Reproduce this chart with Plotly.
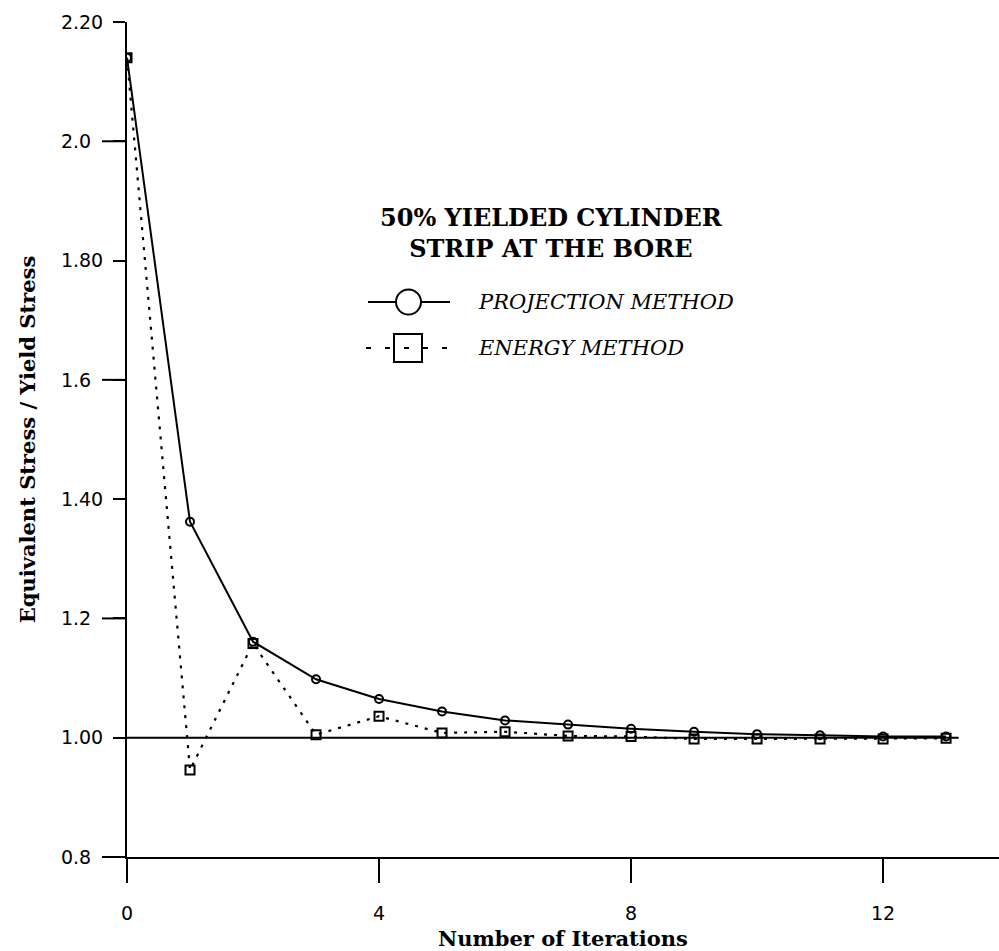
import plotly.graph_objects as go

# ---- data ----
iterations = [0, 1, 2, 3, 4, 5, 6, 7, 8, 9, 10, 11, 12, 13]
projection = [2.14, 1.362, 1.161, 1.098, 1.065, 1.044, 1.029, 1.022, 1.015, 1.010, 1.006, 1.004, 1.002, 1.002]
energy = [2.14, 0.946, 1.158, 1.005, 1.036, 1.008, 1.010, 1.003, 1.002, 0.998, 0.998, 0.998, 0.998, 0.999]

x_ticks = [0, 4, 8, 12]
y_tickvals = [0.8, 1.0, 1.2, 1.4, 1.6, 1.8, 2.0, 2.2]
y_ticktext = ["0.8", "1.00", "1.2", "1.40", "1.6", "1.80", "2.0", "2.20"]
y_long_ticks = [0.8, 1.2, 1.6, 2.0]
reference_level = 1.0

title_lines = ["50% YIELDED CYLINDER", "STRIP AT THE BORE"]
series_names = ["PROJECTION METHOD", "ENERGY METHOD"]

# ---- layout geometry ----
W, H = 999, 951
ML, MR, MT, MB = 127, 0, 22, 94
PW, PH = W - ML - MR, H - MT - MB
X_RANGE = [0, 13.84]
Y_RANGE = [0.8, 2.2]


def px(xp):
    return (xp - ML) / PW


def py(yp):
    return (H - MB - yp) / PH


def ypaper(v):
    return (v - Y_RANGE[0]) / (Y_RANGE[1] - Y_RANGE[0])


# pad the short labels with an invisible digit so all labels share one left edge
label_w = max(len(t) for t in y_ticktext)
y_ticktext_padded = [
    t + ('<span style="color:white">' + "0" * (label_w - len(t)) + "</span>"
         if len(t) < label_w else "")
    for t in y_ticktext
]

fig = go.Figure()

fig.add_trace(go.Scatter(
    x=iterations, y=projection, mode="lines+markers", name=series_names[0],
    line=dict(color="black", width=2),
    marker=dict(symbol="circle-open", size=8, color="black", line=dict(width=2)),
    showlegend=False,
))
fig.add_trace(go.Scatter(
    x=iterations, y=energy, mode="lines+markers", name=series_names[1],
    line=dict(color="black", width=2.2, dash="3px,7px"),
    marker=dict(symbol="square-open", size=9, color="black", line=dict(width=2)),
    showlegend=False,
))

shapes = []
# reference line at 1.00
shapes.append(dict(type="line", xref="x", yref="y", x0=0, x1=13.2,
                   y0=reference_level, y1=reference_level,
                   line=dict(color="black", width=2)))
# longer ticks on alternate y labels
for v in y_long_ticks:
    shapes.append(dict(type="line", xref="paper", yref="paper",
                       x0=px(102), x1=px(127), y0=ypaper(v), y1=ypaper(v),
                       line=dict(color="black", width=2)))

# manual legend
r1, r2 = 302, 348
shapes.append(dict(type="line", xref="paper", yref="paper",
                   x0=px(368), x1=px(450), y0=py(r1), y1=py(r1),
                   line=dict(color="black", width=2)))
shapes.append(dict(type="circle", xref="paper", yref="paper",
                   x0=px(396), x1=px(421), y0=py(r1 + 12.5), y1=py(r1 - 12.5),
                   fillcolor="white", line=dict(color="black", width=2)))
shapes.append(dict(type="line", xref="paper", yref="paper",
                   x0=px(366), x1=px(454), y0=py(r2), y1=py(r2),
                   line=dict(color="black", width=2, dash="5px,14px")))
shapes.append(dict(type="rect", xref="paper", yref="paper",
                   x0=px(394), x1=px(422), y0=py(r2 + 14), y1=py(r2 - 14),
                   line=dict(color="black", width=2)))

annotations = [
    dict(xref="paper", yref="paper", x=px(551), y=py(233),
         text="<b>" + "<br>".join(title_lines) + "</b>", showarrow=False,
         xanchor="center", yanchor="middle", align="center",
         font=dict(family="DejaVu Serif", size=24, color="black")),
    dict(xref="paper", yref="paper", x=px(476), y=py(r1),
         text="<i>" + series_names[0] + "</i>", showarrow=False,
         xanchor="left", yanchor="middle",
         font=dict(family="DejaVu Serif", size=21, color="black")),
    dict(xref="paper", yref="paper", x=px(476), y=py(r2),
         text="<i>" + series_names[1] + "</i>", showarrow=False,
         xanchor="left", yanchor="middle",
         font=dict(family="DejaVu Serif", size=21, color="black")),
]

fig.update_layout(
    width=W, height=H,
    margin=dict(l=ML, r=MR, t=MT, b=MB, pad=0),
    paper_bgcolor="white", plot_bgcolor="white",
    shapes=shapes, annotations=annotations,
    xaxis=dict(
        range=X_RANGE, tickvals=x_ticks, ticktext=[str(t) for t in x_ticks],
        showgrid=False, zeroline=False, showline=True, linecolor="black", linewidth=2,
        ticks="outside", ticklen=24, tickwidth=2, tickcolor="black",
        ticklabelstandoff=14,
        tickfont=dict(family="DejaVu Sans", size=19, color="black"),
        title=dict(text="<b>Number of Iterations</b>", standoff=10,
                   font=dict(family="DejaVu Serif", size=21, color="black")),
    ),
    yaxis=dict(
        range=Y_RANGE, tickvals=y_tickvals, ticktext=y_ticktext_padded,
        showgrid=False, zeroline=False, showline=True, linecolor="black", linewidth=2,
        ticks="outside", ticklen=12, tickwidth=2, tickcolor="black",
        ticklabelstandoff=6,
        tickfont=dict(family="DejaVu Sans", size=19, color="black"),
        title=dict(text="<b>Equivalent Stress / Yield Stress</b>", standoff=20,
                   font=dict(family="DejaVu Serif", size=21, color="black")),
    ),
)

fig.write_html("out.html")
